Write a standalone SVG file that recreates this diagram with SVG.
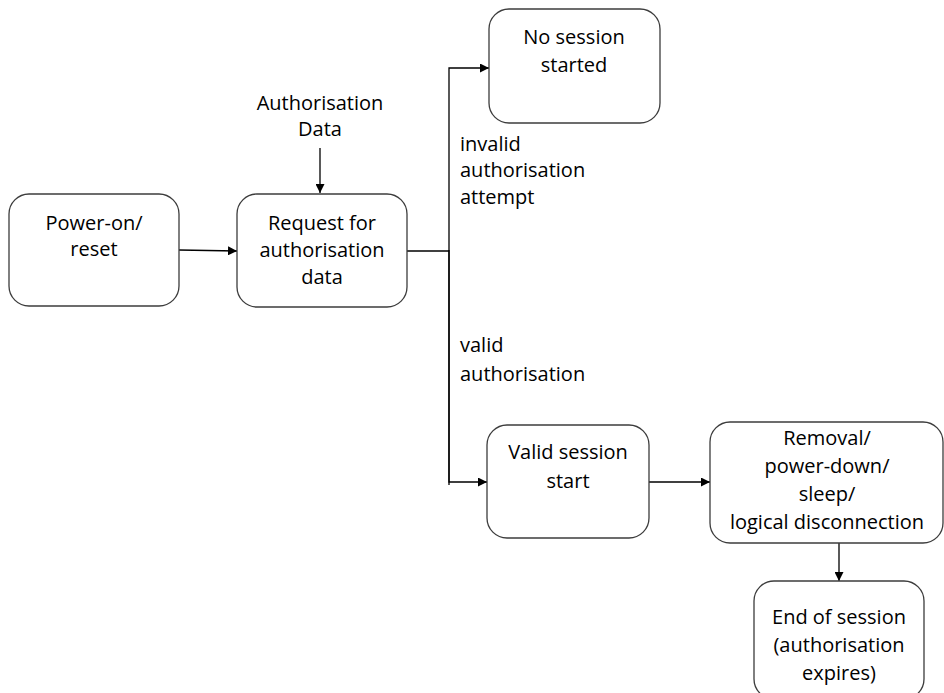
<svg xmlns="http://www.w3.org/2000/svg" width="944" height="693" viewBox="0 0 944 693">
<style>
.box{fill:#fff;stroke:#3c3c3c;stroke-width:1.3}
text{font-family:"Open Sans","Liberation Sans",sans-serif;font-size:20px;fill:#000}
.c{text-anchor:middle}
.ln{fill:none;stroke:#000;stroke-width:1.3}
</style>
<defs>
<marker id="ah" viewBox="0 0 10 10" refX="10" refY="5" markerWidth="9" markerHeight="9" markerUnits="userSpaceOnUse" orient="auto">
<path d="M0,0 L10,5 L0,10 z" fill="#000"/>
</marker>
</defs>
<rect width="944" height="693" fill="#fff"/>
<g id="connectors">
<line class="ln" x1="179" y1="250" x2="237" y2="251" marker-end="url(#ah)"/>
<line class="ln" x1="320" y1="148" x2="320" y2="193" marker-end="url(#ah)"/>
<polyline class="ln" points="407,251 449,251"/>
<polyline class="ln" points="449,485 449,68 489,68" marker-end="url(#ah)"/>
<polyline class="ln" points="449,250 449,482 487,482" marker-end="url(#ah)"/>
<line class="ln" x1="649" y1="482" x2="710" y2="482" marker-end="url(#ah)"/>
<line class="ln" x1="839" y1="543" x2="839" y2="581" marker-end="url(#ah)"/>
<text x="460" y="151">invalid</text>
<text x="460" y="177">authorisation</text>
<text x="460" y="204">attempt</text>
<text x="460" y="352">valid</text>
<text x="460" y="381">authorisation</text>
</g>
<g id="authdata">
<text class="c" x="320" y="110">Authorisation</text>
<text class="c" x="320" y="136">Data</text>
</g>
<g id="poweron">
<rect class="box" x="9" y="194" width="170" height="112" rx="20"/>
<text class="c" x="94" y="230">Power-on/</text>
<text class="c" x="94" y="256">reset</text>
</g>
<g id="request">
<rect class="box" x="237" y="194" width="170" height="113" rx="20"/>
<text class="c" x="322" y="230">Request for</text>
<text class="c" x="322" y="257">authorisation</text>
<text class="c" x="322" y="284">data</text>
</g>
<g id="nosession">
<rect class="box" x="489" y="9" width="171" height="114" rx="20"/>
<text class="c" x="574" y="44">No session</text>
<text class="c" x="574" y="72">started</text>
</g>
<g id="validsession">
<rect class="box" x="487" y="425" width="162" height="113" rx="20"/>
<text class="c" x="568" y="459">Valid session</text>
<text class="c" x="568" y="488">start</text>
</g>
<g id="removal">
<rect class="box" x="710" y="422" width="233" height="121" rx="20"/>
<text class="c" x="827" y="445">Removal/</text>
<text class="c" x="827" y="473">power-down/</text>
<text class="c" x="827" y="501">sleep/</text>
<text class="c" x="827" y="529">logical disconnection</text>
</g>
<g id="endsession">
<rect class="box" x="754" y="581" width="170" height="118" rx="20"/>
<text class="c" x="839" y="624">End of session</text>
<text class="c" x="839" y="652">(authorisation</text>
<text class="c" x="839" y="680">expires)</text>
</g>
</svg>
